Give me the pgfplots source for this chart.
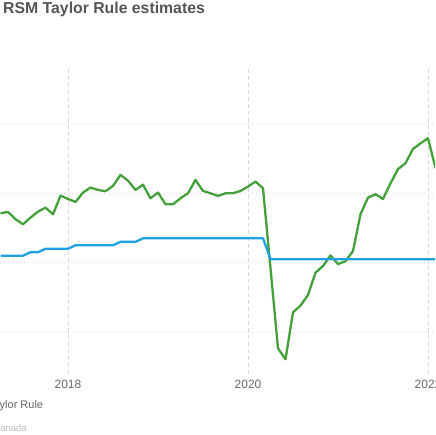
\documentclass[border=0pt]{standalone}
\usepackage{pgfplots}
\pgfplotsset{compat=1.18}
\usepackage{fontspec}
\setmainfont{Liberation Sans}
\definecolor{grn}{HTML}{43A03A}
\definecolor{blu}{HTML}{1DA1E2}
\definecolor{ttl}{HTML}{555555}
\definecolor{tck}{HTML}{666666}
\definecolor{src}{HTML}{BBBBBB}
\definecolor{grd}{HTML}{D8D8D8}
\pgfplotstableread{
m v
-9 3.55
-8 3.65
-7 3.12
-6 2.76
-5 3.24
-4 3.67
-3 3.96
-2 3.48
-1 4.82
0 4.58
1 4.37
2 5.04
3 5.40
4 5.23
5 5.14
6 5.52
7 6.31
8 5.90
9 5.23
10 5.61
11 4.63
12 5.04
13 4.20
14 4.20
15 4.63
16 4.99
17 5.95
18 5.16
19 4.99
20 4.80
21 4.99
22 4.99
23 5.16
24 5.47
25 5.83
26 5.35
27 -0.40
28 -6.16
29 -6.95
30 -3.57
31 -3.09
32 -2.32
33 -0.72
34 -0.24
35 0.52
36 -0.10
37 0.10
38 0.84
39 3.48
40 4.68
41 4.92
42 4.58
43 5.71
44 6.73
45 7.15
46 8.18
47 8.58
48 8.95
49 6.79
}\taylor
\pgfplotstableread{
m v
-9 0.5
-8 0.5
-7 0.5
-6 0.5
-5 0.75
-4 0.75
-3 1.0
-2 1.0
-1 1.0
0 1.0
1 1.25
2 1.25
3 1.25
4 1.25
5 1.25
6 1.25
7 1.5
8 1.5
9 1.5
10 1.75
26 1.75
27 0.25
49 0.25
}\policy
\begin{document}
\begin{tikzpicture}[x=1pt,y=1pt]
\path[use as bounding box, clip] (0,0) rectangle (435,435);
\begin{axis}[
  at={(0pt,61.1pt)}, anchor=south west,
  scale only axis, width=435pt, height=305.9pt,
  xmin=-9.0667, xmax=48.9333, ymin=-8, ymax=14,
  axis line style={draw=none},
  major tick length=0pt,
  xtick={0,24,48}, xticklabels={2018,2020,2022},
  ytick={-5,0,5,10}, yticklabels={},
  xmajorgrids, ymajorgrids,
  x grid style={grd, line width=1pt, dash pattern=on 4pt off 3pt},
  y grid style={grd, line width=1pt, dash pattern=on 1pt off 3pt},
  xticklabel style={font=\fontsize{12}{14}\selectfont, text=tck, anchor=center, yshift=-10pt},
  clip=true,
]
\addplot[grn, line width=2.3pt, line join=round] table[x=m,y=v] {\taylor};
\addplot[blu, line width=2.3pt, line join=round] table[x=m,y=v] {\policy};
\end{axis}
\node[anchor=base west, inner sep=0pt, text=ttl, font=\fontsize{15.8}{18}\selectfont\bfseries] at (3,421.5) {RSM Taylor Rule estimates};
\node[anchor=base east, inner sep=0pt, text=tck, font=\fontsize{11}{13}\selectfont] at (43.3,26.7) {Taylor Rule};
\node[anchor=base east, inner sep=0pt, text=src, font=\fontsize{9.5}{11}\selectfont] at (26.9,4) {Source: Bank of Canada};
\end{tikzpicture}
\end{document}
